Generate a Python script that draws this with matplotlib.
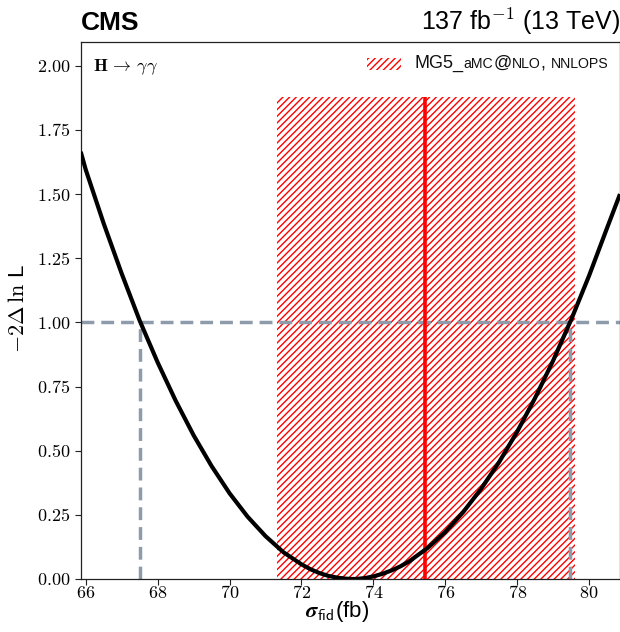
import matplotlib
matplotlib.use("Agg")
import matplotlib.pyplot as plt
from matplotlib.ticker import FuncFormatter, FixedLocator
from matplotlib.offsetbox import HPacker, TextArea, DrawingArea, AnchoredOffsetbox
from matplotlib.patches import Rectangle

plt.rcParams['font.family'] = ['Liberation Sans', 'DejaVu Sans']
plt.rcParams['mathtext.fontset'] = 'cm'
plt.rcParams['hatch.linewidth'] = 1.0
plt.rcParams['hatch.color'] = 'red'

# Likelihood scan
sigma_fid = [65.86, 66.0, 66.5, 67.0, 67.5, 68.0, 68.5, 69.0, 69.5, 70.0, 70.5,
             71.0, 71.5, 72.0, 72.25, 72.5, 72.75, 73.0, 73.25, 73.4, 73.5,
             73.75, 74.0, 74.25, 74.5, 74.75, 75.0, 75.5, 76.0, 76.5, 77.0,
             77.5, 78.0, 78.5, 79.0, 79.5, 80.0, 80.5, 80.86]
nll2 = [1.665, 1.595, 1.385, 1.190, 1.007, 0.844, 0.695, 0.560, 0.440, 0.334, 0.243,
        0.167, 0.104, 0.057, 0.038, 0.023, 0.012, 0.005, 0.001, 0.000, 0.000,
        0.003, 0.010, 0.020, 0.033, 0.049, 0.069, 0.120, 0.183, 0.261, 0.352,
        0.456, 0.574, 0.706, 0.851, 1.010, 1.182, 1.368, 1.500]

# 68% interval
ci_low, ci_high = 67.52, 79.47
# Theory prediction (MG5_aMC@NLO, NNLOPS)
pred_central = 75.44
pred_low, pred_high = 71.33, 79.62
pred_height = 1.88

x_ticks = [66, 68, 70, 72, 74, 76, 78, 80]
y_ticks = [0.0, 0.25, 0.5, 0.75, 1.0, 1.25, 1.5, 1.75, 2.0]

fig = plt.figure(figsize=(6.2, 6.32), dpi=100)
ax = fig.add_axes([0.1302, 0.0839, 0.8698, 0.8501])

gray = '#8e9bab'
ax.fill_between([pred_low, pred_high], 0, pred_height, facecolor='none',
                edgecolor='red', hatch='/////', linewidth=0, zorder=1)
ax.vlines(pred_central, 0, pred_height, color='red', lw=2.6, zorder=3)
ax.axhline(1.0, color=gray, lw=2.5, linestyle=(0, (3.7, 2.0)), zorder=2)
ax.vlines([ci_low, ci_high], 0, 1.0, color=gray, lw=2.5,
          linestyle=(0, (3.7, 2.0)), zorder=2)
ax.plot(sigma_fid, nll2, color='black', lw=3.0, zorder=4, solid_capstyle='butt')

ax.set_xlim(65.86, 80.86)
ax.set_ylim(0, 2.094)
ax.xaxis.set_major_locator(FixedLocator(x_ticks))
ax.yaxis.set_major_locator(FixedLocator(y_ticks))
ax.xaxis.set_major_formatter(FuncFormatter(lambda v, p: f'${v:.0f}$'))
ax.yaxis.set_major_formatter(FuncFormatter(lambda v, p: f'${v:.2f}$'))
ax.tick_params(axis='both', direction='out', length=4, width=0.8, labelsize=13,
               colors='#222222', labelcolor='black')
ax.tick_params(axis='x', pad=0.5)
for s in ax.spines.values():
    s.set_linewidth(0.9)
    s.set_color('#222222')

ax.set_xlabel(r'$\mathbfit{\sigma}_{\mathsf{fid}}$(fb)', fontsize=16)
ax.xaxis.set_label_coords(0.476, -0.0845)
ax.xaxis.label.set_va('bottom')
ax.set_ylabel(r'$-2\Delta\,\ln\,$L', fontsize=16)
ax.yaxis.set_label_coords(-0.095, 0.504)

ax.text(0.0, 1.022, 'CMS', transform=ax.transAxes, fontsize=19,
        fontweight='bold', ha='left', va='baseline')
ax.text(1.0, 1.022, r'137 fb$^{-1}$ (13 TeV)', transform=ax.transAxes,
        fontsize=18, ha='right', va='baseline')
ax.text(0.022, 0.946, r'$\mathbf{H}\,\rightarrow\,\gamma\gamma$', transform=ax.transAxes,
        fontsize=13, ha='left', va='baseline')

# Legend with small caps style label
da = DrawingArea(24.5, 8.6, 0, 0)
da.add_artist(Rectangle((0, 0), 24.5, 8.6, facecolor='none', edgecolor='red',
                        hatch='/////', linewidth=0))
big = dict(fontsize=13, color='#111111')
small = dict(fontsize=10.2, color='#111111')
parts = [TextArea('MG5_', textprops=big), TextArea('aMC', textprops=small),
         TextArea('@', textprops=big), TextArea('NLO', textprops=small),
         TextArea(', ', textprops=big), TextArea('NNLOPS', textprops=small)]
txt = HPacker(children=parts, align='baseline', pad=0, sep=0)
box = HPacker(children=[da, txt], align='center', pad=0, sep=10)
anch = AnchoredOffsetbox(loc='upper right', child=box, pad=0, borderpad=0,
                         frameon=False, bbox_to_anchor=(0.978, 0.975),
                         bbox_transform=ax.transAxes)
ax.add_artist(anch)

fig.savefig('out.png', dpi=100)
